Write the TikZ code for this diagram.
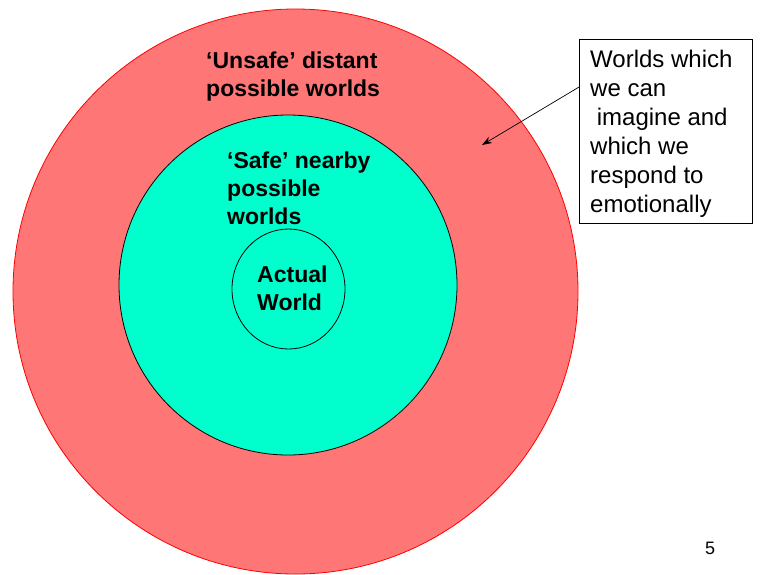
\documentclass[tikz,border=0pt]{standalone}
\usepackage{fontspec}
\setmainfont{Liberation Sans}
\usetikzlibrary{arrows.meta,shapes.geometric,calc}
\definecolor{tealfill}{RGB}{0,255,204}
\definecolor{pinkred}{RGB}{255,118,118}
\begin{document}
\begin{tikzpicture}[x=1pt,y=-1pt,
  boldlabel/.style={font=\fontsize{23}{28}\selectfont\bfseries, align=left, inner sep=0pt, anchor=base west},
  plainlabel/.style={font=\fontsize{24}{29}\selectfont, align=left, inner sep=0pt, anchor=base west},
  world/.style={ellipse, inner sep=0pt, fill=tealfill, draw=black, line width=0.8pt}]
\useasboundingbox (0,0) rectangle (767,574);
\begin{scope}
\clip (0,0) rectangle (767,574);
\node[circle, inner sep=0pt, minimum size=565pt, fill=pinkred, draw=red, line width=0.8pt] (outer) at (295.5,291.5) {};
\end{scope}
\node[world, minimum width=338pt, minimum height=340pt] (middle) at (288,285) {};
\node[world, minimum width=113pt, minimum height=120pt] (inner) at (288.5,289) {};
% base anchor of a multi-line node is the baseline of its last line
\node[boldlabel] (unsafe) at (206,96) {‘Unsafe’ distant\\possible worlds};
\node[boldlabel] (safe) at (227,224) {‘Safe’ nearby\\possible\\worlds};
\node[boldlabel] (actual) at (257,310) {Actual\\World};
\node[draw=black, line width=0.8pt, minimum width=173pt, minimum height=184pt, anchor=north west, inner sep=0pt, fill=white] (box) at (579,39) {};
\node[plainlabel] (boxtext) at (590,212) {Worlds which\\we can\\\ imagine and\\which we\\respond to\\emotionally};
\node[font=\fontsize{18}{20}\selectfont, inner sep=0pt] (pagenum) at (710,548) {5};
\coordinate (tip) at (482,145);
\draw[-{Stealth[length=10pt,width=7pt]}, line width=0.7pt] ($(box.north west)!0.26!(box.south west)$) -- (tip);
\end{tikzpicture}
\end{document}
